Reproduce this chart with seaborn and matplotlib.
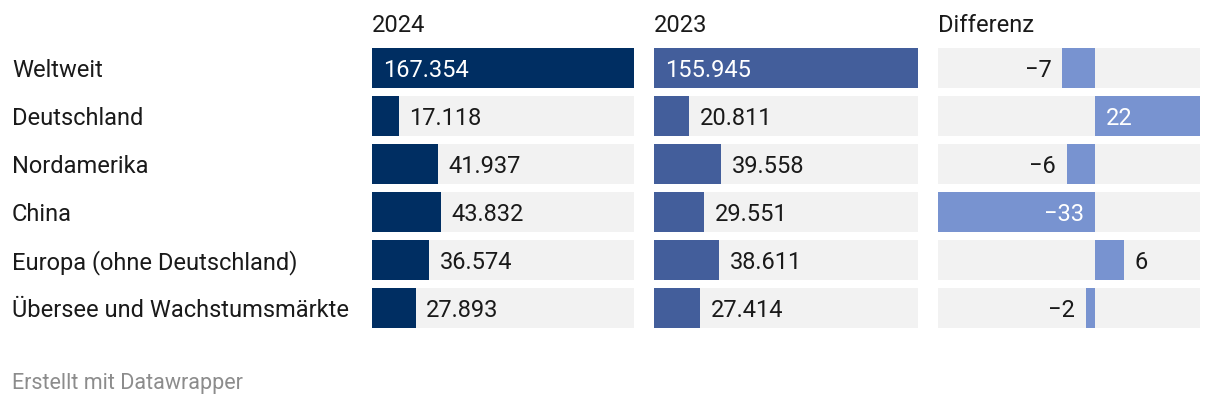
import matplotlib
matplotlib.use("Agg")
import matplotlib.pyplot as plt
import seaborn as sns

sns.set_theme(style="white")
plt.rcParams["font.family"] = ["Roboto", "DejaVu Sans"]

# data
regions = ["Weltweit", "Deutschland", "Nordamerika", "China",
           "Europa (ohne Deutschland)", "Übersee und Wachstumsmärkte"]
sales_2024 = [167354, 17118, 41937, 43832, 36574, 27893]
sales_2023 = [155945, 20811, 39558, 29551, 38611, 27414]
diff_pct = [-7, 22, -6, -33, 6, -2]
headers = ["2024", "2023", "Differenz"]

W, H = 1220, 404
fig = plt.figure(figsize=(W / 100, H / 100), dpi=100)
fig.patch.set_facecolor("white")

BG = "#f2f2f2"
colors = ["#002e62", "#435e9b", "#7893d0"]
TXT = "#1a1a1a"
FS = 17
ROW_H = 40 / 48


def fmt_thousands(v):
    return f"{v:,}".replace(",", ".")


def fmt_diff(v):
    return f"{v}".replace("-", "\u2212")


def px_axes(left, width, top=44, bottom=332):
    return fig.add_axes([left / W, 1 - bottom / H, width / W, (bottom - top) / H])


columns = [
    (372, 262, sales_2024, 0, max(sales_2024), fmt_thousands),
    (654, 264, sales_2023, 0, max(sales_2023), fmt_thousands),
    (938, 262, diff_pct, min(diff_pct), max(diff_pct), fmt_diff),
]

for k, (left, width, vals, lo, hi, fmt) in enumerate(columns):
    ax = px_axes(left, width)
    ax.barh(range(len(regions)), hi - lo, left=lo, height=ROW_H,
            color=BG, linewidth=0, zorder=0)
    sns.barplot(x=vals, y=regions, ax=ax, color=colors[k],
                width=ROW_H, saturation=1, linewidth=0, zorder=2)
    ax.set_xlim(lo, hi)
    ax.set_ylim(len(regions) - 0.5, -0.5)
    ax.axis("off")

    scale = width / (hi - lo)
    for i, v in enumerate(vals):
        inside = abs(v) * scale > 80
        sign = 1 if v >= 0 else -1
        ha = "left" if sign > 0 else "right"
        if inside:
            # label at the bar base, white
            ax.annotate(fmt(v), xy=(0, i), xytext=(sign * 8, 0),
                        textcoords="offset points", va="center_baseline",
                        ha=ha, color="white", fontsize=FS, zorder=3)
        else:
            ax.annotate(fmt(v), xy=(v, i), xytext=(sign * 7.5, 0),
                        textcoords="offset points", va="center_baseline",
                        ha=ha, color=TXT, fontsize=FS, zorder=3)

    fig.text(left / W, 1 - 23 / H, headers[k], ha="left",
             va="center_baseline", fontsize=FS, color=TXT)

for i, r in enumerate(regions):
    fig.text(12 / W, 1 - (68 + 48 * i) / H, r, ha="left",
             va="center_baseline", fontsize=FS, color=TXT)

fig.text(12 / W, 1 - 381 / H, "Erstellt mit Datawrapper", ha="left",
         va="center_baseline", fontsize=15.5, color="#8c8c8c")

fig.savefig("out.png", dpi=100, facecolor="white")
